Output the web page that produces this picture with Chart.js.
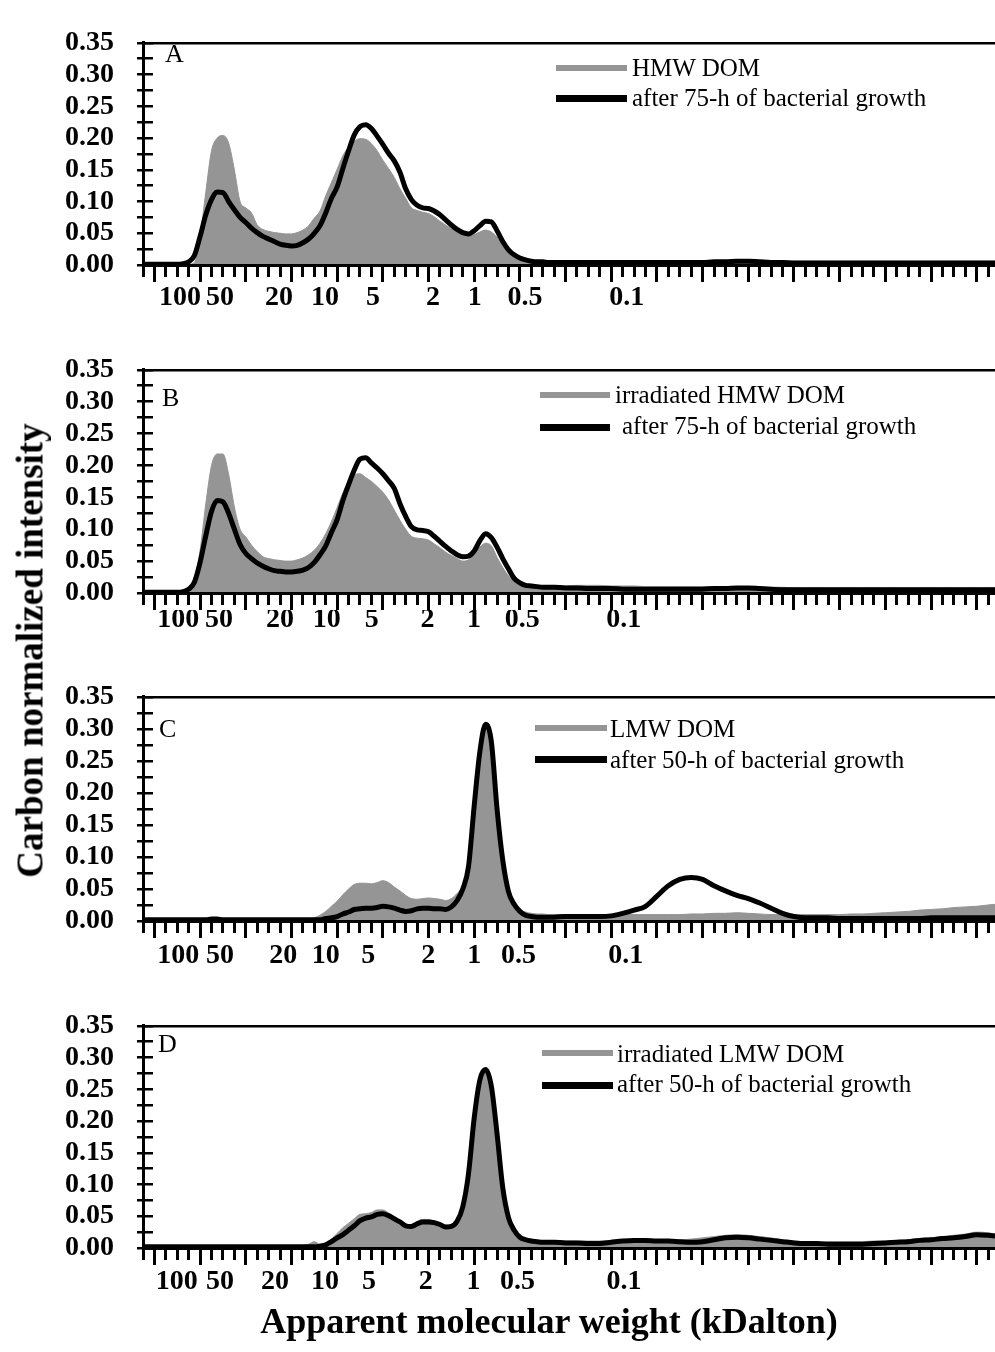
<!DOCTYPE html>
<html>
<head>
<meta charset="utf-8">
<script src="https://cdn.jsdelivr.net/npm/chart.js@4.4.1/dist/chart.umd.min.js"></script>
<style>
body { margin: 0; background: #fff; }
#page { position: relative; width: 995px; height: 1352px; overflow: hidden; font-family: 'Liberation Serif', 'Times New Roman', serif; color: #000; }
#page canvas { position: absolute; left: 0; }
.txt { position: absolute; font-size: 25px; line-height: 25px; white-space: nowrap; }
.sw { position: absolute; }
</style>
</head>
<body>
<div id="page"></div>
<script>
// elution position (minor tick units of the x axis)
const elution = [0, 1, 2, 3,
  3.5, 4, 4.5, 5, 5.5, 6, 6.5, 7, 7.5, 8,
  8.5, 9, 9.5, 10, 10.5, 11, 11.5, 12, 12.5, 13,
  13.5, 14, 14.5, 15, 15.5, 16, 16.5, 17, 17.5, 18,
  18.5, 19, 19.5, 20, 20.5, 21, 21.5, 22, 22.5, 23,
  23.5, 24, 24.5, 25, 25.5, 26, 26.5, 27, 27.5, 28,
  28.5, 29, 29.5, 30, 30.5, 31, 31.5, 32, 32.5, 33,
  33.5, 34, 34.5, 35, 35.5, 36,
  37, 38, 39, 40, 41, 42, 43, 44, 45, 46,
  47, 48, 49, 50, 51, 52, 53, 54, 55, 56,
  57, 58, 59, 60, 61, 62, 63, 64, 65, 66,
  67, 68, 69, 70, 71, 72, 73, 74, 74.6];

// A
const hmwDom = [0, 0, 0, 0,
  0, 0.001, 0.004, 0.045, 0.115, 0.18, 0.2, 0.204, 0.192, 0.15,
  0.1, 0.09, 0.082, 0.063, 0.056, 0.053, 0.051, 0.05, 0.049, 0.049,
  0.051, 0.055, 0.062, 0.074, 0.085, 0.109, 0.13, 0.151, 0.172, 0.186,
  0.195, 0.199, 0.198, 0.191, 0.18, 0.165, 0.152, 0.138, 0.12, 0.105,
  0.09, 0.086, 0.083, 0.081, 0.076, 0.069, 0.063, 0.057, 0.052, 0.048,
  0.046, 0.048, 0.052, 0.055, 0.052, 0.044, 0.03, 0.019, 0.012, 0.009,
  0.008, 0.007, 0.007, 0.007, 0.007, 0.007,
  0.007, 0.007, 0.007, 0.007, 0.007, 0.007, 0.006, 0.006, 0.006, 0.006,
  0.007, 0.007, 0.007, 0.007, 0.007, 0.007, 0.006, 0.006, 0.006, 0.006,
  0.006, 0.006, 0.006, 0.006, 0.006, 0.006, 0.006, 0.006, 0.006, 0.006,
  0.006, 0.006, 0.006, 0.006, 0.006, 0.006, 0.006, 0.006, 0.006];
const hmwBact = [0.001, 0.001, 0.001, 0.001,
  0.002, 0.005, 0.015, 0.045, 0.079, 0.103, 0.115, 0.114, 0.1, 0.087,
  0.075, 0.067, 0.058, 0.051, 0.045, 0.041, 0.037, 0.033, 0.031, 0.03,
  0.031, 0.035, 0.041, 0.05, 0.062, 0.082, 0.105, 0.123, 0.152, 0.18,
  0.205, 0.218, 0.221, 0.215, 0.203, 0.19, 0.176, 0.164, 0.146, 0.12,
  0.103, 0.094, 0.09, 0.089, 0.085, 0.079, 0.071, 0.063, 0.056, 0.051,
  0.049, 0.054, 0.062, 0.069, 0.068, 0.054, 0.037, 0.024, 0.016, 0.011,
  0.008, 0.006, 0.005, 0.005, 0.004, 0.004,
  0.004, 0.004, 0.004, 0.004, 0.004, 0.004, 0.004, 0.004, 0.004, 0.004,
  0.004, 0.004, 0.004, 0.005, 0.005, 0.006, 0.006, 0.005, 0.004, 0.004,
  0.003, 0.003, 0.003, 0.003, 0.003, 0.003, 0.003, 0.003, 0.003, 0.003,
  0.003, 0.003, 0.003, 0.003, 0.003, 0.003, 0.003, 0.003, 0.003];

// B
const irrHmwDom = [0.001, 0.001, 0.001, 0.001,
  0.001, 0.005, 0.02, 0.067, 0.14, 0.2, 0.218, 0.218, 0.186, 0.135,
  0.1, 0.088, 0.075, 0.065, 0.057, 0.054, 0.052, 0.051, 0.05, 0.05,
  0.052, 0.055, 0.06, 0.067, 0.078, 0.093, 0.112, 0.134, 0.157, 0.175,
  0.185, 0.187, 0.181, 0.175, 0.167, 0.158, 0.146, 0.13, 0.114, 0.1,
  0.089, 0.086, 0.085, 0.083, 0.077, 0.071, 0.064, 0.059, 0.054, 0.05,
  0.052, 0.062, 0.072, 0.078, 0.074, 0.056, 0.04, 0.027, 0.018, 0.012,
  0.01, 0.009, 0.008, 0.008, 0.008, 0.009,
  0.011, 0.012, 0.012, 0.012, 0.011, 0.011, 0.011, 0.01, 0.01, 0.01,
  0.01, 0.01, 0.01, 0.009, 0.009, 0.01, 0.01, 0.009, 0.009, 0.009,
  0.008, 0.008, 0.008, 0.008, 0.008, 0.008, 0.008, 0.008, 0.008, 0.008,
  0.008, 0.008, 0.008, 0.008, 0.008, 0.008, 0.008, 0.008, 0.008];
const irrHmwBact = [0.001, 0.001, 0.001, 0.001,
  0.002, 0.006, 0.017, 0.048, 0.09, 0.128, 0.145, 0.143, 0.125, 0.1,
  0.076, 0.062, 0.054, 0.047, 0.042, 0.038, 0.035, 0.034, 0.033, 0.033,
  0.034, 0.036, 0.04, 0.048, 0.06, 0.074, 0.095, 0.115, 0.145, 0.17,
  0.193, 0.21, 0.212, 0.204, 0.196, 0.187, 0.176, 0.164, 0.14, 0.12,
  0.104, 0.099, 0.098, 0.096, 0.089, 0.081, 0.073, 0.066, 0.06, 0.057,
  0.058, 0.066, 0.082, 0.093, 0.087, 0.072, 0.054, 0.038, 0.023, 0.016,
  0.012, 0.011, 0.01, 0.009, 0.009, 0.009,
  0.008, 0.008, 0.007, 0.007, 0.007, 0.006, 0.006, 0.006, 0.006, 0.006,
  0.006, 0.006, 0.006, 0.007, 0.007, 0.008, 0.008, 0.007, 0.006, 0.005,
  0.005, 0.005, 0.005, 0.005, 0.005, 0.005, 0.005, 0.005, 0.005, 0.005,
  0.005, 0.005, 0.005, 0.005, 0.005, 0.005, 0.005, 0.005, 0.005];

// C
const lmwDom = [0.002, 0.002, 0.002, 0.002,
  0.002, 0.002, 0.002, 0.002, 0.002, 0.003, 0.002, 0.002, 0.002, 0.002,
  0.002, 0.002, 0.002, 0.002, 0.002, 0.002, 0.002, 0.002, 0.002, 0.002,
  0.002, 0.002, 0.003, 0.005, 0.009, 0.015, 0.023, 0.031, 0.041, 0.05,
  0.057, 0.059, 0.059, 0.058, 0.06, 0.063, 0.06, 0.053, 0.047, 0.04,
  0.035, 0.034, 0.035, 0.036, 0.035, 0.034, 0.032, 0.035, 0.043, 0.056,
  0.09, 0.175, 0.258, 0.3, 0.27, 0.18, 0.1, 0.05, 0.029, 0.018,
  0.014, 0.012, 0.011, 0.011, 0.01, 0.01,
  0.01, 0.01, 0.01, 0.01, 0.01, 0.01, 0.01, 0.01, 0.01, 0.01,
  0.01, 0.011, 0.011, 0.012, 0.012, 0.013, 0.012, 0.011, 0.01, 0.01,
  0.01, 0.01, 0.01, 0.01, 0.01, 0.011, 0.011, 0.012, 0.013, 0.014,
  0.015, 0.017, 0.018, 0.019, 0.021, 0.022, 0.023, 0.025, 0.026];
const lmwBact = [0.002, 0.002, 0.002, 0.002,
  0.002, 0.002, 0.002, 0.002, 0.002, 0.003, 0.003, 0.002, 0.002, 0.002,
  0.002, 0.002, 0.002, 0.002, 0.002, 0.002, 0.002, 0.002, 0.002, 0.002,
  0.002, 0.002, 0.002, 0.002, 0.002, 0.004, 0.005, 0.007, 0.011, 0.014,
  0.018, 0.019, 0.02, 0.02, 0.021, 0.023, 0.022, 0.02, 0.017, 0.015,
  0.016, 0.019, 0.02, 0.02, 0.019, 0.019, 0.018, 0.022, 0.032, 0.05,
  0.085, 0.18, 0.265, 0.307, 0.28, 0.175, 0.095, 0.046, 0.026, 0.015,
  0.009, 0.007, 0.006, 0.006, 0.006, 0.006,
  0.007, 0.007, 0.007, 0.007, 0.008, 0.012, 0.017, 0.023, 0.039, 0.055,
  0.065, 0.068, 0.065, 0.055, 0.047, 0.04, 0.035, 0.028, 0.02, 0.012,
  0.007, 0.005, 0.005, 0.005, 0.004, 0.004, 0.004, 0.004, 0.004, 0.004,
  0.004, 0.004, 0.005, 0.005, 0.005, 0.005, 0.005, 0.005, 0.005];

// D
const irrLmwDom = [0.003, 0.003, 0.003, 0.003,
  0.003, 0.003, 0.003, 0.003, 0.003, 0.003, 0.004, 0.003, 0.003, 0.003,
  0.003, 0.003, 0.003, 0.004, 0.003, 0.003, 0.003, 0.003, 0.003, 0.003,
  0.003, 0.004, 0.006, 0.01, 0.006, 0.007, 0.014, 0.023, 0.032, 0.039,
  0.046, 0.053, 0.054, 0.056, 0.06, 0.06, 0.055, 0.048, 0.041, 0.035,
  0.036, 0.042, 0.045, 0.045, 0.042, 0.039, 0.036, 0.037, 0.044, 0.062,
  0.105, 0.19, 0.255, 0.28, 0.25, 0.17, 0.09, 0.05, 0.03, 0.02,
  0.016, 0.013, 0.012, 0.011, 0.011, 0.011,
  0.011, 0.011, 0.011, 0.011, 0.012, 0.013, 0.014, 0.014, 0.013, 0.013,
  0.013, 0.014, 0.016, 0.018, 0.02, 0.021, 0.02, 0.018, 0.016, 0.013,
  0.011, 0.01, 0.01, 0.01, 0.01, 0.01, 0.01, 0.011, 0.011, 0.012,
  0.013, 0.015, 0.016, 0.018, 0.02, 0.022, 0.025, 0.024, 0.022];
const irrLmwBact = [0.002, 0.002, 0.002, 0.002,
  0.002, 0.002, 0.002, 0.002, 0.002, 0.002, 0.002, 0.002, 0.002, 0.002,
  0.002, 0.002, 0.002, 0.002, 0.002, 0.002, 0.002, 0.002, 0.002, 0.002,
  0.002, 0.002, 0.002, 0.002, 0.003, 0.005, 0.01, 0.016, 0.021, 0.028,
  0.035, 0.043, 0.047, 0.049, 0.053, 0.054, 0.051, 0.046, 0.041, 0.035,
  0.034, 0.038, 0.041, 0.041, 0.04, 0.037, 0.033, 0.034, 0.042, 0.065,
  0.117, 0.205, 0.265, 0.281, 0.255, 0.18, 0.095, 0.048, 0.028, 0.017,
  0.013, 0.011, 0.01, 0.009, 0.009, 0.009,
  0.008, 0.008, 0.007, 0.007, 0.009, 0.011, 0.012, 0.012, 0.011, 0.011,
  0.01, 0.009, 0.01, 0.013, 0.016, 0.017, 0.016, 0.014, 0.012, 0.01,
  0.008, 0.007, 0.007, 0.006, 0.006, 0.006, 0.006, 0.007, 0.008, 0.009,
  0.01, 0.012, 0.013, 0.015, 0.016, 0.018, 0.021, 0.02, 0.019];

// molecular weight labels (kDalton) and where they sit on each panel's x axis
const mwLabels = ['100', '50', '20', '10', '5', '2', '1', '0.5', '0.1'];
const mwPosA = [3.24, 6.74, 11.9, 15.94, 20.14, 25.4, 29.04, 33.45, 42.36];
const mwPosB = [3.09, 6.66, 12.0, 16.08, 20.02, 24.9, 28.98, 33.2, 42.1];
const mwPosC = [3.09, 6.74, 12.29, 16.0, 19.73, 24.98, 29.0, 32.87, 42.27];
const mwPosD = [2.95, 6.74, 11.56, 15.94, 19.79, 24.75, 28.93, 32.78, 42.12];

const panelLetters = ['A', 'B', 'C', 'D'];
const grayNames = ['HMW DOM', 'irradiated HMW DOM', 'LMW DOM', 'irradiated LMW DOM'];
const blackNames = ['after 75-h of bacterial growth', 'after 75-h of bacterial growth',
  'after 50-h of bacterial growth', 'after 50-h of bacterial growth'];

// layout
const panelTop = [21, 348, 675, 1004];
const panelBottom = [265, 593, 921, 1248];
const labelPad = [-1, -7, 1, 0];
const GRAY = '#959595';

Chart.defaults.font.family = "'Liberation Serif', 'Times New Roman', serif";
Chart.defaults.color = '#000';

const page = document.getElementById('page');

function addText(str, x, baseline, size, bold) {
  const d = document.createElement('div');
  d.className = 'txt';
  d.textContent = str;
  d.style.left = x + 'px';
  d.style.top = (baseline - Math.round(size * 0.84)) + 'px';
  d.style.fontSize = size + 'px';
  d.style.lineHeight = size + 'px';
  if (bold) d.style.fontWeight = 'bold';
  page.appendChild(d);
  return d;
}
function addSwatch(x1, x2, y, h, color) {
  const d = document.createElement('div');
  d.className = 'sw';
  d.style.left = x1 + 'px';
  d.style.width = (x2 - x1) + 'px';
  d.style.top = (y - h / 2) + 'px';
  d.style.height = h + 'px';
  d.style.background = color;
  page.appendChild(d);
}

function makePanel(i, gray, black, mwPos) {
  const c = document.createElement('canvas');
  c.width = 995;
  c.height = panelBottom[i] - panelTop[i] + 75;
  c.style.top = (panelTop[i] - 18) + 'px';
  page.appendChild(c);

  new Chart(c, {
    type: 'line',
    data: {
      datasets: [
        {
          label: blackNames[i],
          data: elution.map((x, k) => ({ x: x, y: black[k] })),
          xAxisID: 'x', yAxisID: 'y',
          borderColor: '#000', borderWidth: 5,
          pointRadius: 0, fill: false,
          cubicInterpolationMode: 'monotone'
        },
        {
          label: grayNames[i],
          data: elution.map((x, k) => ({ x: x, y: gray[k] })),
          xAxisID: 'x', yAxisID: 'y',
          borderColor: GRAY, backgroundColor: GRAY, borderWidth: 1,
          pointRadius: 0, fill: 'origin',
          cubicInterpolationMode: 'monotone'
        }
      ]
    },
    options: {
      responsive: false,
      animation: false,
      events: [],
      layout: { padding: { top: 18, left: 0, right: 0, bottom: 0 } },
      plugins: { legend: { display: false }, tooltip: { enabled: false } },
      scales: {
        x: {
          type: 'linear', axis: 'x', position: 'bottom', weight: 0,
          min: 0, max: 74.6,
          ticks: { display: false, stepSize: 1, includeBounds: false, autoSkip: false },
          grid: {
            drawOnChartArea: false, tickLength: 17, tickWidth: 3, tickColor: '#000',
            tickBorderDash: ctx => (ctx.tick && (Math.round(ctx.tick.value) - 1) % 4 === 0) ? [] : [10, 40]
          },
          border: { color: '#000', width: 3, z: 1 },
          afterFit: s => { s.height = 17; }
        },
        mw: {
          type: 'linear', axis: 'x', position: 'bottom', weight: 1,
          min: 0, max: 74.6,
          afterBuildTicks: s => { s.ticks = mwPos.map(v => ({ value: v })); },
          ticks: {
            autoSkip: false, maxRotation: 0, minRotation: 0, padding: labelPad[i],
            font: { size: 28, weight: 'bold', lineHeight: 1.2 },
            callback: (v, k) => mwLabels[k]
          },
          grid: { display: false, drawTicks: false, tickLength: 0 },
          border: { display: false },
          afterFit: s => { s.height = 40; }
        },
        top: {
          type: 'linear', axis: 'x', position: 'top',
          min: 0, max: 74.6,
          ticks: { display: false },
          grid: { display: false, drawTicks: false, tickLength: 0 },
          border: { color: '#000', width: 2.5, z: 1 },
          afterFit: s => { s.height = 0; }
        },
        y: {
          type: 'linear', position: 'left',
          min: 0, max: 0.35,
          ticks: {
            stepSize: 0.025, padding: 23, autoSkip: false,
            font: { size: 28, weight: 'bold' },
            callback: v => (Math.round(v * 1000) % 50 === 0) ? v.toFixed(2) : ''
          },
          grid: { drawOnChartArea: true, color: '#000', lineWidth: 2.5, tickLength: 6, tickWidth: 2.5, tickColor: '#000' },
          border: { color: '#000', width: 3, dash: [8, 2000], z: 1 },
          afterFit: s => { s.width = 143; }
        }
      }
    }
  });
}

makePanel(0, hmwDom, hmwBact, mwPosA);
makePanel(1, irrHmwDom, irrHmwBact, mwPosB);
makePanel(2, lmwDom, lmwBact, mwPosC);
makePanel(3, irrLmwDom, irrLmwBact, mwPosD);

// panel letters and legends
const letterPos = [[165, 63], [162, 407], [159, 738], [158, 1053]];
const legendPos = [
  { x1: 556, x2: 627, gy: 68, by: 98, tx: 632, tx2: 632, b1: 76, b2: 106 },
  { x1: 540, x2: 610, gy: 395, by: 427, tx: 615, tx2: 622, b1: 403, b2: 434 },
  { x1: 535, x2: 607, gy: 728, by: 759, tx: 610, tx2: 610, b1: 737, b2: 768 },
  { x1: 542, x2: 613, gy: 1053, by: 1085, tx: 617, tx2: 617, b1: 1062, b2: 1092 }
];
for (let i = 0; i < 4; i++) {
  addText(panelLetters[i], letterPos[i][0], letterPos[i][1], 26, false);
  const L = legendPos[i];
  addSwatch(L.x1, L.x2, L.gy, 6, GRAY);
  addSwatch(L.x1, L.x2, L.by, 7, '#000');
  addText(grayNames[i], L.tx, L.b1, 25, false);
  addText(blackNames[i], L.tx2, L.b2, 25, false);
}

// axis titles
const xt = addText('Apparent molecular weight (kDalton)', 149, 1333, 36, true);
xt.style.width = '800px';
xt.style.textAlign = 'center';

const yt = document.createElement('div');
yt.className = 'txt';
yt.textContent = 'Carbon normalized intensity';
yt.style.fontSize = '37px';
yt.style.lineHeight = '37px';
yt.style.fontWeight = 'bold';
yt.style.width = '600px';
yt.style.textAlign = 'center';
yt.style.left = (30 - 300) + 'px';
yt.style.top = (650 - 18) + 'px';
yt.style.transform = 'rotate(-90deg)';
page.appendChild(yt);
</script>
</body>
</html>
